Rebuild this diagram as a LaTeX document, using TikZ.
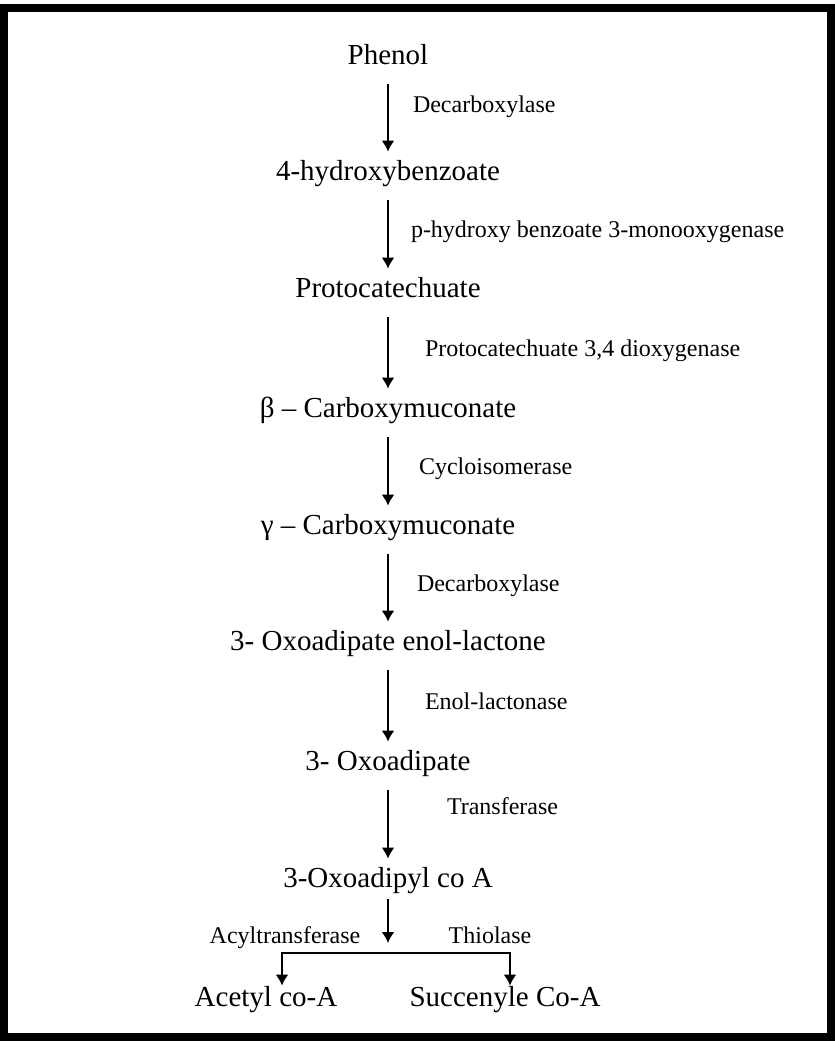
\documentclass[tikz,border=0pt]{standalone}
\usepackage{fontspec}
\setmainfont{Liberation Serif}
\usetikzlibrary{arrows.meta}

\begin{document}
\begin{tikzpicture}[>={Latex[width=6.5pt,length=5.5pt]}, x=0.5pt, y=-0.5pt]

\tikzset{
    compound/.style={
        font=\fontsize{14.5}{16}\selectfont,
        inner sep=0pt, text height=10pt, text depth=3pt
    },
    enzyme/.style={
        font=\fontsize{12}{14}\selectfont,
        inner sep=0pt, text height=8.5pt, text depth=2.5pt
    },
    step arrow/.style={
        ->, line width=1pt, shorten <=7pt, shorten >=4pt
    }
}

\useasboundingbox (0,0) rectangle (835,1041);

% Frame
\draw[line width=4pt] (4,8) rectangle (831,1037);

% Compounds (pathway top to bottom)
\node[compound] (phenol) at (388, 57) {Phenol};
\node[compound] (hba) at (388, 173) {4-hydroxybenzoate};
\node[compound] (pca) at (388, 290) {Protocatechuate};
\node[compound] (bcm) at (388, 410) {β – Carboxymuconate};
\node[compound] (gcm) at (388, 527) {γ – Carboxymuconate};
\node[compound] (enol) at (388, 643) {3- Oxoadipate enol-lactone};
\node[compound] (oxo) at (388, 763) {3- Oxoadipate};
\node[compound] (oxocoa) at (388, 880) {3-Oxoadipyl co A};
\node[compound] (acetyl) at (266, 999) {Acetyl co-A};
\node[compound] (succ) at (505, 999) {Succenyle Co-A};

% --- ENZYME STEPS ---
\draw[step arrow] (phenol) -- (hba) node[enzyme, pos=0.4, right=12pt] {Decarboxylase};
\draw[step arrow] (hba) -- (pca) node[enzyme, midway, right=11pt] {p-hydroxy benzoate 3-monooxygenase};
\draw[step arrow] (pca) -- (bcm) node[enzyme, midway, right=18pt] {Protocatechuate 3,4 dioxygenase};
\draw[step arrow] (bcm) -- (gcm) node[enzyme, midway, right=15pt] {Cycloisomerase};
\draw[step arrow] (gcm) -- (enol) node[enzyme, midway, right=14pt] {Decarboxylase};
\draw[step arrow] (enol) -- (oxo) node[enzyme, midway, right=18pt] {Enol-lactonase};
\draw[step arrow] (oxo) -- (oxocoa) node[enzyme, pos=0.36, right=29pt] {Transferase};

% Split into the two products
\coordinate (split) at (388, 943);
\coordinate (lbr) at (282, 953);
\coordinate (rbr) at (510, 953);
\draw[step arrow, shorten <=3pt, shorten >=0pt] (oxocoa) -- (split);
\node[enzyme] (acyl) at (285, 937) {Acyltransferase};
\node[enzyme] (thio) at (490, 937) {Thiolase};
\draw[<->, line width=1pt] (acetyl.north -| lbr) -- (lbr) -- (rbr) -- (rbr |- succ.north);

\end{tikzpicture}
\end{document}
